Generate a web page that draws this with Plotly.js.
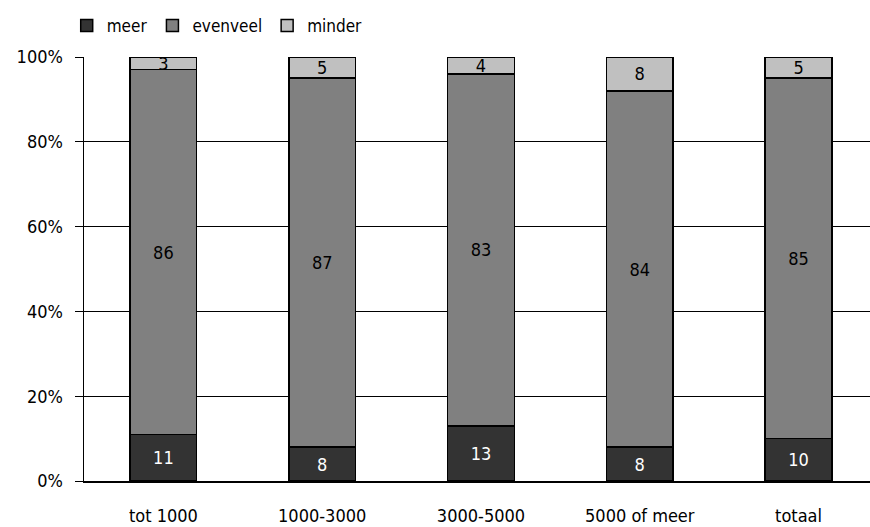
<!DOCTYPE html>
<html>
<head>
<meta charset="utf-8">
<script src="https://cdn.plot.ly/plotly-3.0.1.min.js"></script>
<style>html,body{margin:0;padding:0;background:#fff}#chart{width:870px;height:527px}</style>
</head>
<body>
<div id="chart"></div>
<script>
const categories = ["tot 1000", "1000-3000", "3000-5000", "5000 of meer", "totaal"];
const meer = [11, 8, 13, 8, 10];
const evenveel = [86, 87, 83, 84, 85];
const minder = [3, 5, 4, 8, 5];
const yTickVals = [0, 20, 40, 60, 80, 100];
const yTickText = ["0%", "20%", "40%", "60%", "80%", "100%"];

const FONT = '"DejaVu Sans Condensed", "Liberation Sans Narrow", Arial, sans-serif';

function series(name, vals, color, textColor) {
  return {
    type: 'bar', name: name, x: categories, y: vals,
    marker: {color: color, line: {color: '#000', width: 1.5}},
    width: 0.42,
    text: vals.map(String), textposition: 'inside', insidetextanchor: 'middle',
    constraintext: 'none', textangle: 0,
    textfont: {family: FONT, size: 18, color: textColor},
    hoverinfo: 'none'
  };
}

const data = [
  series('meer', meer, '#333333', '#ffffff'),
  series('evenveel', evenveel, '#808080', '#000000'),
  series('minder', minder, '#c0c0c0', '#000000')
];

const layout = {
  width: 870, height: 527,
  margin: {l: 84, r: 0, t: 57, b: 46, pad: 0},
  barmode: 'stack',
  paper_bgcolor: '#fff', plot_bgcolor: '#fff',
  font: {family: FONT, size: 18, color: '#000'},
  showlegend: true,
  legend: {orientation: 'h', x: -0.022, xanchor: 'left', y: 1.073, yanchor: 'middle',
           font: {family: FONT, size: 17, color: '#000'}, traceorder: 'normal',
           itemwidth: 30, tracegroupgap: 0},
  xaxis: {
    range: [-0.5, 4.45], showgrid: false, zeroline: false,
    showline: true, linecolor: '#000', linewidth: 1.5,
    ticks: '', ticklabelstandoff: 18,
    tickfont: {family: FONT, size: 18, color: '#000'}
  },
  yaxis: {
    range: [0, 100], tickvals: yTickVals, ticktext: yTickText,
    showgrid: true, gridcolor: '#000', gridwidth: 1,
    zeroline: false, showline: true, linecolor: '#000', linewidth: 1.5,
    ticks: 'outside', ticklen: 8, tickcolor: '#000', tickwidth: 1,
    ticklabelstandoff: 8,
    tickfont: {family: FONT, size: 18, color: '#000'}
  }
};

Plotly.newPlot('chart', data, layout, {displayModeBar: false, staticPlot: true});
</script>
</body>
</html>
